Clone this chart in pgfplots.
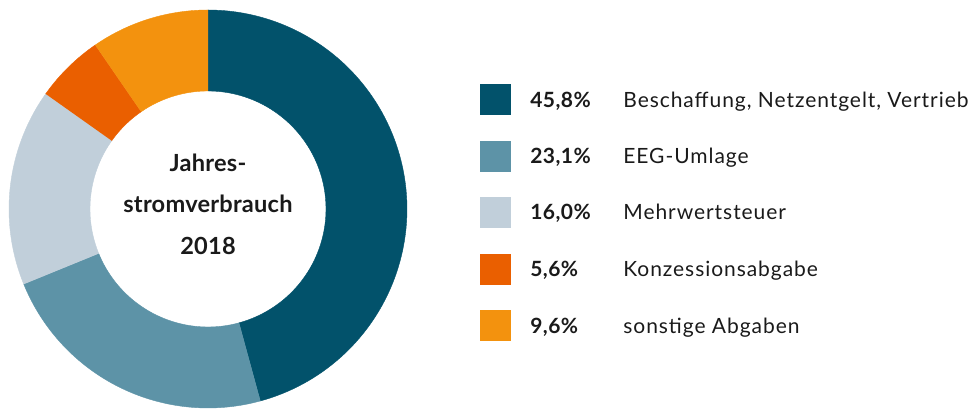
\documentclass[border=0pt]{standalone}
\usepackage{pgfplots}
\pgfplotsset{compat=1.18}
\usepackage{fontspec}
\setmainfont{Lato}
\newfontfamily\labfont[LetterSpace=4.5]{Lato}
\newfontfamily\pctfont[LetterSpace=2]{Lato}
\newfontfamily\ctrfont[LetterSpace=1]{Lato}
\definecolor{cA}{HTML}{02526B}
\definecolor{cB}{HTML}{5D93A7}
\definecolor{cC}{HTML}{C1CFDA}
\definecolor{cD}{HTML}{EA5F00}
\definecolor{cE}{HTML}{F3920E}
\definecolor{txt}{HTML}{1A1A1A}
% shares in percent
\def\vA{45.8}\def\vB{23.1}\def\vC{16.0}\def\vD{5.6}\def\vE{9.6}
\pgfmathsetmacro\vS{\vA+\vB+\vC+\vD+\vE}
\pgfmathsetmacro\aA{90}
\pgfmathsetmacro\aB{\aA-\vA/\vS*360}
\pgfmathsetmacro\aC{\aB-\vB/\vS*360}
\pgfmathsetmacro\aD{\aC-\vC/\vS*360}
\pgfmathsetmacro\aE{\aD-\vD/\vS*360}
\pgfmathsetmacro\aF{\aE-\vE/\vS*360}
\def\cx{208}\def\cy{201}\def\Ro{199}\def\Ri{118}
% integer parameter: 0..100 outer arc (start->end), 101..201 inner arc (end->start)
\newcommand\slice[3]{%
  \addplot[fill=#1, draw=#1, line width=0.2pt, samples at={0,1,...,201}, variable=\t]
   ({\cx + ((\t<100.5)?\Ro:\Ri)*cos(((\t<100.5)?(#2+(#3-#2)*\t/100):(#3+(#2-#3)*(\t-101)/100)))},
    {\cy + ((\t<100.5)?\Ro:\Ri)*sin(((\t<100.5)?(#2+(#3-#2)*\t/100):(#3+(#2-#3)*(\t-101)/100)))});}
\newcommand\legsq[2]{%
  \addplot[fill=#1, draw=none] coordinates {(480,#2-15.5) (511,#2-15.5) (511,#2+15.5) (480,#2+15.5)} -- cycle;}
\begin{document}
\begin{tikzpicture}
\begin{axis}[
  width=488pt, height=205pt, scale only axis,
  xmin=0, xmax=976, ymin=0, ymax=410,
  hide axis, clip=false,
]
\draw[draw=none] (rel axis cs:0,0) rectangle (rel axis cs:1,1);
\slice{cA}{\aA}{\aB}
\slice{cB}{\aB}{\aC}
\slice{cC}{\aC}{\aD}
\slice{cD}{\aD}{\aE}
\slice{cE}{\aE}{\aF}
\tikzset{ctr/.style={anchor=base, inner sep=0pt, font=\ctrfont\fontsize{11.8}{13}\selectfont\bfseries, text=txt}}
\node[ctr] at (axis cs:208,238) {Jahres-};
\node[ctr] at (axis cs:208,197) {stromverbrauch};
\node[ctr] at (axis cs:208,155) {2018};
\legsq{cA}{310}
\legsq{cB}{253.5}
\legsq{cC}{197.5}
\legsq{cD}{140.5}
\legsq{cE}{84}
\tikzset{pct/.style={anchor=base west, inner sep=0pt, font=\pctfont\fontsize{10.5}{12}\selectfont\bfseries, text=txt},
         lab/.style={anchor=base west, inner sep=0pt, font=\labfont\fontsize{10.5}{12}\selectfont, text=txt}}
\node[pct] at (axis cs:530,302.5) {45,8\%};
\node[pct] at (axis cs:530,246) {23,1\%};
\node[pct] at (axis cs:530,190) {16,0\%};
\node[pct] at (axis cs:530,133) {5,6\%};
\node[pct] at (axis cs:530,76.5) {9,6\%};
\node[lab] at (axis cs:623,302.5) {Beschaffung, Netzentgelt, Vertrieb};
\node[lab] at (axis cs:623,246) {EEG-Umlage};
\node[lab] at (axis cs:623,190) {Mehrwertsteuer};
\node[lab] at (axis cs:623,133) {Konzessionsabgabe};
\node[lab] at (axis cs:623,76.5) {sonstige Abgaben};
\end{axis}
\end{tikzpicture}
\end{document}
